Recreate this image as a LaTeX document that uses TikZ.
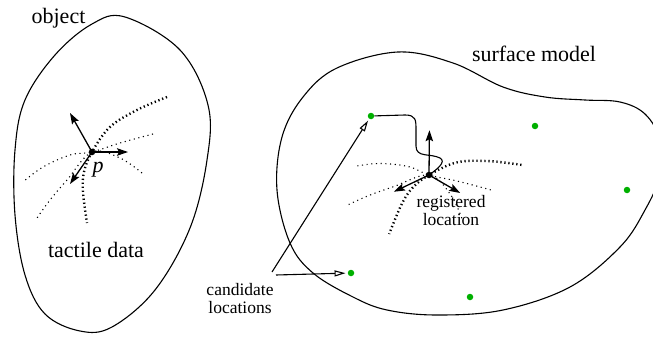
\documentclass[tikz,border=0pt]{standalone}
\usepackage{fontspec}
\setmainfont{Liberation Serif}
\usetikzlibrary{arrows.meta}

\definecolor{ptgreen}{RGB}{0,176,0}

\tikzset{
  outline/.style={line width=1.1pt, line join=round},
  thindots/.style={line width=1.1pt, dash pattern=on 1.1pt off 3.6pt},
  bolddots/.style={line width=2.4pt, dash pattern=on 1.3pt off 2.7pt},
  vec/.style={line width=1.3pt, -{Stealth[length=11pt,width=7.5pt,inset=2pt]}},
  hollowarrow/.style={line width=1.1pt, -{Triangle[open,length=11pt,width=6pt]}, shorten >=2pt},
  blackdot/.style={circle, fill=black, inner sep=0pt, minimum size=6.5pt},
  greendot/.style={circle, fill=ptgreen, inner sep=0pt, minimum size=6.5pt},
  bigtxt/.style={inner sep=0pt, font=\fontsize{22}{22}\selectfont},
  smalltxt/.style={inner sep=0pt, align=center, font=\fontsize{17.5}{18}\selectfont},
  % three surface curves through a contact point, with its frame of vectors
  tactile/.pic={
    \draw[thindots] plot[smooth, tension=0.6] coordinates
      {(61,-18) (28,-9) (0,0) (-22,3) (-49,15) (-69,30)};
    \draw[thindots] plot[smooth, tension=0.6] coordinates
      {(50,21) (28,6) (0,0) (-25,28) (-42,48) (-55,66)};
    \draw[bolddots] plot[smooth, tension=0.6] coordinates
      {(75,-55) (45,-42) (18,-25) (0,0) (-8,20) (-9,40) (-5,71)};
    \coordinate (-a) at (-22,-39);
    \coordinate (-b) at (36,0);
    \coordinate (-c) at (-22,32);
    \node[blackdot] (-p) at (0,0) {};
    \draw[vec] (-p.center) -- (-a);
    \draw[vec] (-p.center) -- (-b);
    \draw[vec] (-p.center) -- (-c);
  }
}

\begin{document}
\begin{tikzpicture}[x=1pt, y=-1pt]
\useasboundingbox (0,0) rectangle (653,337);

% the object
\draw[outline] plot[smooth cycle, tension=0.6] coordinates {
  (125,17) (180,50) (208,105) (207,160) (190,228) (155,290) (112,327)
  (80,331) (45,314) (25,275) (15,215) (15,150) (25,100) (55,55) (92,24)};

% the surface model
\draw[outline] plot[smooth cycle, tension=0.6] coordinates {
  (398,52) (453,63) (503,87) (545,97) (585,100) (620,102) (645,114)
  (660,140) (660,175) (645,210) (620,247) (570,287) (503,310) (437,315)
  (387,310) (353,297) (313,273) (290,243) (277,190) (282,137) (303,97)
  (337,68)};

% tactile data and its registered pose
\pic (L) at (92,152) {tactile};
\pic[rotate=-30] (R) at (429,175) {tactile};

% candidate locations
\node[greendot] (g1) at (371,116) {};
\node[greendot] (g2) at (535,126) {};
\node[greendot] (g3) at (627,190) {};
\node[greendot] (g4) at (351,273) {};
\node[greendot] (g5) at (470,297) {};

% path from a candidate to the registered location
\draw[line width=1.1pt] (g1) -- (405,115) .. controls (416,115) and (416,120) .. (416,130)
  -- (416,146) .. controls (416,158) and (430,153) .. (440,158)
  .. controls (447,162) and (436,170) .. (R-p.center);

% labels
\node[bigtxt, anchor=base] (objlabel) at (58.5,24) {object};
\node[bigtxt, anchor=base] (tactlabel) at (96,257) {tactile data};
\node[bigtxt, anchor=base] (surflabel) at (534,62) {surface model};
\node[bigtxt, anchor=base] (plabel) at (98,172) {\textit{p}};
\node[smalltxt, anchor=base] (reglabel) at (451,225) {registered\\location};
\node[smalltxt, anchor=base] (candlabel) at (240,313) {candidate\\locations};

\coordinate (c1) at (272,272);
\coordinate (c2) at (276,275);
\draw[hollowarrow] (c1) -- (g1);
\draw[hollowarrow] (c2) -- (g4);
\end{tikzpicture}
\end{document}
